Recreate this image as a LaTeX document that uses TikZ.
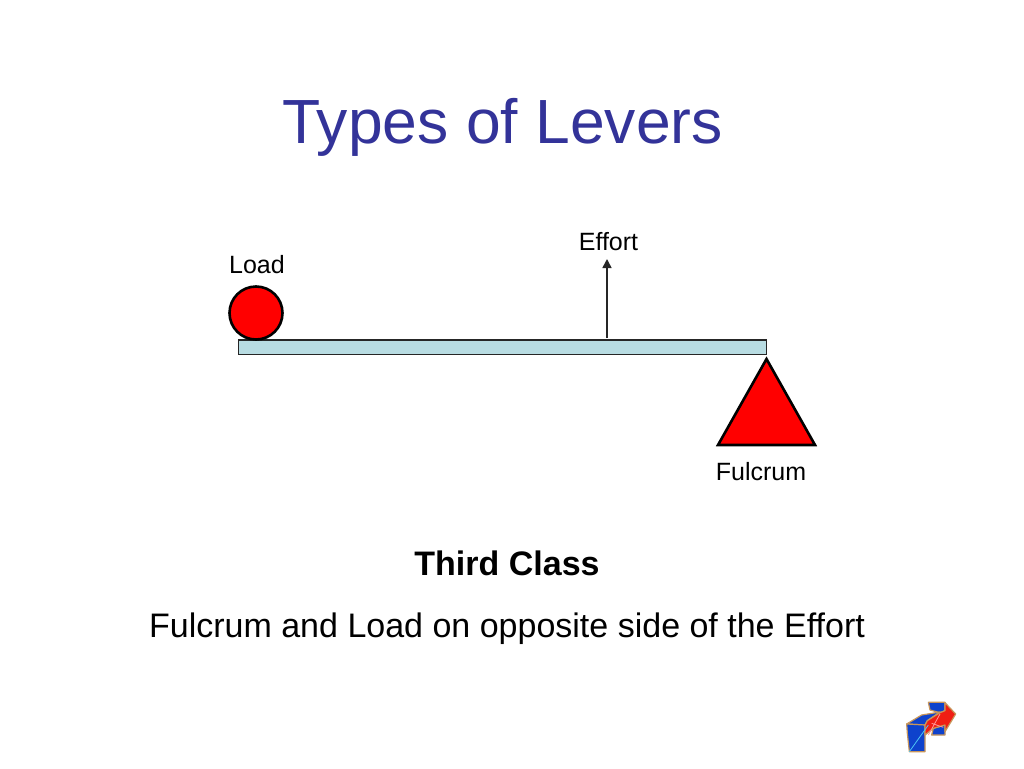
\documentclass[tikz,border=0pt]{standalone}
\usepackage{fontspec}
\setmainfont[Ligatures=NoCommon]{Liberation Sans}
\usetikzlibrary{arrows.meta}
\definecolor{titleblue}{RGB}{51,51,153}
\definecolor{beamfill}{RGB}{184,220,226}
\definecolor{logoblue}{RGB}{14,66,204}
\definecolor{logored}{RGB}{240,30,20}
\definecolor{logoedge}{RGB}{200,150,90}
\tikzset{
  lbl/.style={font=\fontsize{25}{30}\selectfont,inner sep=0pt,text=black},
  shapeline/.style={draw=black,line width=2.6pt,fill=red},
  logopart/.style={draw=logoedge,line width=1.2pt,line join=round},
}
\begin{document}
\begin{tikzpicture}[x=1pt,y=-1pt]
\useasboundingbox (0,0) rectangle (1024,768);
\fill[white] (0,0) rectangle (1024,768);
\node[inner sep=0pt,text=titleblue,font=\fontsize{62.4}{76}\selectfont] (title) at (502.5,127.5) {Types of Levers};
\node[lbl] (effort) at (608.5,241.5) {Effort};
\node[lbl] (load) at (257,265) {Load};
\node[lbl] (fulcrumlabel) at (761,472) {Fulcrum};
\node[inner sep=0pt,font=\fontsize{34}{40}\selectfont\bfseries] (class) at (507,563.5) {Third Class};
\node[inner sep=0pt,font=\fontsize{34}{40}\selectfont] (desc) at (507,629) {Fulcrum and Load on opposite side of the Effort};
\draw[draw=black!85,line width=1.2pt,fill=beamfill] (238.5,340) rectangle (766.5,354.5);
\coordinate (beamtop) at (607,338);
\coordinate (efforttip) at (607,259);
\draw[black!85,line width=1.6pt,-{Triangle[length=9pt,width=9pt]}] (beamtop) -- (efforttip);
\node[circle,shapeline,minimum size=53pt,inner sep=0pt] (ball) at (256,313) {};
\draw[shapeline,line join=miter] (766.5,359) -- (815,445) -- (718,445) -- cycle;
% logo
\begin{scope}[shift={(890,690)},x=0.3333pt,y=-0.3333pt]
\path[logopart,fill=logoblue] (115,37) -- (165,37) -- (165,62) -- (150,68) -- (120,60) -- cycle;
\path[logopart,fill=logoblue] (50,102) -- (95,75) -- (150,66) -- (112,92) -- (105,105) -- cycle;
\path[logopart,fill=logoblue] (50,102) -- (105,105) -- (105,185) -- (58,185) -- (52,130) -- cycle;
\path[logopart,fill=logoblue] (130,115) -- (165,105) -- (165,135) -- (125,135) -- cycle;
\path[logopart,fill=logored] (165,38) -- (197,72) -- (165,125) -- (165,105) -- (130,115) -- (105,135) -- (105,105) -- (112,92) -- (150,68) -- (165,62) -- cycle;
\draw[cyan!70,line width=0.8pt] (58,185) -- (115,105);
\draw[red!40!white,line width=0.8pt] (115,135) -- (150,72) (125,100) -- (160,112);
\end{scope}
\end{tikzpicture}
\end{document}
